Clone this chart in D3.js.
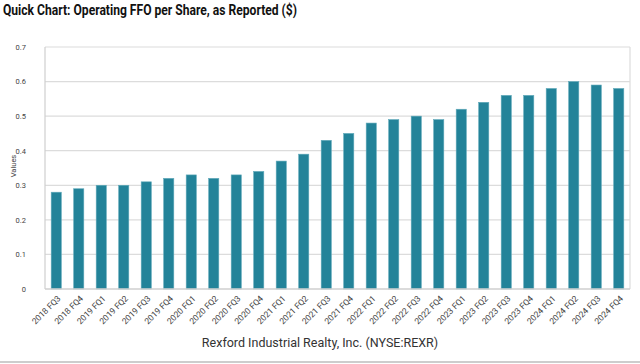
<!DOCTYPE html>
<html>
<head>
<meta charset="utf-8">
<script src="https://cdn.jsdelivr.net/npm/d3@7"></script>
<style>
  html, body { margin: 0; padding: 0; background: #fff; }
  svg { display: block; }
</style>
</head>
<body>
<svg id="chart" width="640" height="364"></svg>
<script>
const categories = [
  "2018 FQ3","2018 FQ4",
  "2019 FQ1","2019 FQ2","2019 FQ3","2019 FQ4",
  "2020 FQ1","2020 FQ2","2020 FQ3","2020 FQ4",
  "2021 FQ1","2021 FQ2","2021 FQ3","2021 FQ4",
  "2022 FQ1","2022 FQ2","2022 FQ3","2022 FQ4",
  "2023 FQ1","2023 FQ2","2023 FQ3","2023 FQ4",
  "2024 FQ1","2024 FQ2","2024 FQ3","2024 FQ4"
];
const values = [
  0.28, 0.29,
  0.30, 0.30, 0.31, 0.32,
  0.33, 0.32, 0.33, 0.34,
  0.37, 0.39, 0.43, 0.45,
  0.48, 0.49, 0.50, 0.49,
  0.52, 0.54, 0.56, 0.56,
  0.58, 0.60, 0.59, 0.58
];
const yTicks = [0, 0.1, 0.2, 0.3, 0.4, 0.5, 0.6, 0.7];
const titleText = "Quick Chart: Operating FFO per Share, as Reported ($)";
const footerText = "Rexford Industrial Realty, Inc. (NYSE:REXR)";
const yLabel = "Values";

const svg = d3.select("#chart");
const plotL = 45, plotR = 630, plotT = 47, plotB = 289;

const x = d3.scaleBand().domain(categories).range([plotL, plotR]).paddingInner(0.55).paddingOuter(0.275);
const y = d3.scaleLinear().domain([0, 0.7]).range([plotB, plotT]);

// title
svg.append("text")
  .attr("x", 3).attr("y", 15)
  .attr("font-family", "Roboto, 'Liberation Sans', sans-serif")
  .attr("font-weight", 700)
  .attr("font-size", 15)
  .attr("fill", "#111")
  .attr("textLength", 294)
  .attr("lengthAdjust", "spacingAndGlyphs")
  .text(titleText);

// gridlines
svg.append("g").selectAll("line")
  .data(yTicks.filter(d => d > 0))
  .join("line")
  .attr("x1", plotL).attr("x2", plotR)
  .attr("y1", d => y(d)).attr("y2", d => y(d))
  .attr("stroke", "#dcdcdc").attr("stroke-width", 1.2);

// right border
svg.append("line")
  .attr("x1", plotR).attr("x2", plotR).attr("y1", plotT).attr("y2", plotB)
  .attr("stroke", "#dcdcdc").attr("stroke-width", 1.2);

// y axis
const yAxis = d3.axisLeft(y).tickValues(yTicks).tickSize(0).tickPadding(0).tickFormat(d => d === 0 ? "0" : d3.format(".1f")(d));
const gy = svg.append("g").attr("transform", `translate(${plotL - 19},0)`).call(yAxis);
gy.select(".domain").remove();
gy.selectAll("text")
  .attr("font-family", "Roboto, 'Liberation Sans', sans-serif")
  .attr("font-size", 7.5).attr("fill", "#444");
svg.append("line")
  .attr("x1", plotL).attr("x2", plotL).attr("y1", plotT).attr("y2", plotB)
  .attr("stroke", "#cfcfcf").attr("stroke-width", 1.2);

// bars
svg.append("g").selectAll("rect")
  .data(values)
  .join("rect")
  .attr("x", (d, i) => x(categories[i]))
  .attr("width", x.bandwidth())
  .attr("y", d => y(d))
  .attr("height", d => y(0) - y(d))
  .attr("fill", "#238399")
  .attr("stroke", "#5fa9ba")
  .attr("stroke-width", 0.6);

// x axis baseline
svg.append("line")
  .attr("x1", plotL).attr("x2", plotR).attr("y1", plotB).attr("y2", plotB)
  .attr("stroke", "#cfcfcf").attr("stroke-width", 1.5);

// x axis labels
const xAxis = d3.axisBottom(x).tickSize(0).tickPadding(0);
const gx = svg.append("g").attr("transform", `translate(0,${plotB})`).call(xAxis);
gx.select(".domain").remove();
gx.selectAll("text")
  .attr("font-family", "Roboto, 'Liberation Sans', sans-serif")
  .attr("font-size", 8.5).attr("fill", "#444")
  .attr("text-anchor", "end")
  .attr("dy", 0)
  .attr("transform", "translate(5,10) rotate(-45)");

// y label
svg.append("text")
  .attr("transform", "translate(16,166) rotate(-90)")
  .attr("text-anchor", "middle")
  .attr("font-family", "Roboto, 'Liberation Sans', sans-serif")
  .attr("font-size", 7.5).attr("fill", "#444")
  .text(yLabel);

// footer
svg.append("text")
  .attr("x", 320).attr("y", 347)
  .attr("text-anchor", "middle")
  .attr("font-family", "Roboto, 'Liberation Sans', sans-serif")
  .attr("font-size", 12.5).attr("fill", "#333")
  .text(footerText);

svg.append("line")
  .attr("x1", 0).attr("x2", 640).attr("y1", 362).attr("y2", 362)
  .attr("stroke", "#bdbdbd").attr("stroke-width", 1.5);
</script>
</body>
</html>
